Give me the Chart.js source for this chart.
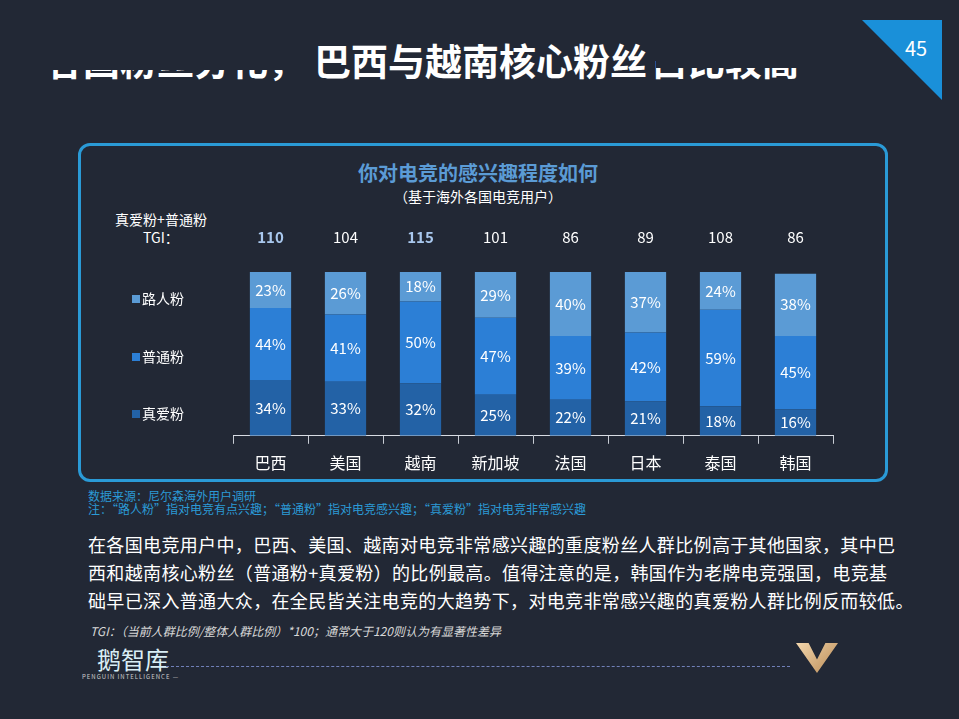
<!DOCTYPE html>
<html>
<head>
<meta charset="utf-8">
<script src="https://cdn.jsdelivr.net/npm/chart.js@4/dist/chart.umd.min.js"></script>
<style>
  html, body { margin: 0; padding: 0; }
  body {
    width: 959px; height: 719px; position: relative; overflow: hidden;
    background: #222835;
    font-family: "Noto Sans CJK SC", "Noto Sans", sans-serif;
    color: #fff;
  }
  .abs { position: absolute; white-space: nowrap; }
  .title { top: 34px; font-size: 37px; font-weight: bold; line-height: 52px; }
  .mask { position: absolute; background: #222835; }
  .page-tri {
    position: absolute; left: 862px; top: 20px; width: 80px; height: 80px;
    background: #1a90d9; clip-path: polygon(0 0, 100% 0, 100% 100%);
  }
  .box {
    position: absolute; left: 78px; top: 143px; width: 804px; height: 333px;
    border: 3px solid #2a9ad6; border-radius: 12px; background: #222835;
  }
  #chart { position: absolute; left: 0; top: 0; }
  .body-text { left: 88px; top: 530px; font-size: 18px; line-height: 28px; letter-spacing: 0.35px; }
  .v-logo {
    position: absolute; left: 796px; top: 643px; width: 42px; height: 30px;
    background: linear-gradient(135deg, #f3d7ad, #b98a55);
    clip-path: polygon(0 0, 30% 0, 50% 55%, 70% 0, 100% 0, 50% 100%);
  }
</style>
</head>
<body>
  <div class="abs title" style="right:654px;">各国粉丝分化，</div>
  <div class="abs title" style="left:314px;">巴西与越南核心粉丝</div>
  <div class="abs title" style="left:651px;">占比较高</div>
  <div class="mask" style="left:30px; top:30px; width:280px; height:40px;"></div>
  <div class="mask" style="left:656px; top:30px; width:180px; height:38px;"></div>

  <div class="page-tri"></div>
  <div class="abs" style="left:905px; top:33px; font-size:20px;">45</div>

  <div class="box"></div>
  <div class="abs" style="left:0; width:956px; text-align:center; top:158px; font-size:20px; font-weight:bold; color:#5b9bd5;">你对电竞的感兴趣程度如何</div>
  <div class="abs" style="left:0; width:956px; text-align:center; top:186px; font-size:14px;">（基于海外各国电竞用户）</div>
  <div class="abs" style="left:100px; width:122px; text-align:center; top:210px; font-size:14px; line-height:18px;">真爱粉+普通粉<br>TGI：</div>

  <div class="abs" style="left:88px; top:489px; font-size:12px; line-height:13px; color:#2b9ad6;">数据来源：尼尔森海外用户调研<br>注：“路人粉”指对电竞有点兴趣；“普通粉”指对电竞感兴趣；“真爱粉”指对电竞非常感兴趣</div>

  <div class="abs body-text">在各国电竞用户中，巴西、美国、越南对电竞非常感兴趣的重度粉丝人群比例高于其他国家，其中巴<br>西和越南核心粉丝（普通粉+真爱粉）的比例最高。值得注意的是，韩国作为老牌电竞强国，电竞基<br>础早已深入普通大众，在全民皆关注电竞的大趋势下，对电竞非常感兴趣的真爱粉人群比例反而较低。</div>
  <div class="abs" style="left:90px; top:622px; font-size:12px; font-style:italic; color:#d8d8d8;">TGI：（当前人群比例/整体人群比例）*100；通常大于120则认为有显著性差异</div>

  <div class="abs" style="left:97px; top:641px; font-size:24px; color:#d9eef5;">鹅智库</div>
  <div class="abs" style="left:82px; top:672px; font-size:6px; color:#ccc; letter-spacing:1px;">PENGUIN INTELLIGENCE —</div>
  <div class="abs" style="left:166px; top:666px; width:624px; border-top:1px dashed #7080b8;"></div>
  <div class="v-logo"></div>

  <canvas id="chart" width="959" height="719"></canvas>

<script>
const categories = ["巴西", "美国", "越南", "新加坡", "法国", "日本", "泰国", "韩国"];
const trueFans = [34, 33, 32, 25, 22, 21, 18, 16];     // 真爱粉
const regularFans = [44, 41, 50, 47, 39, 42, 59, 45];  // 普通粉
const casualFans = [23, 26, 18, 29, 40, 37, 24, 38];   // 路人粉
const tgiValues = [110, 104, 115, 101, 86, 89, 108, 86];
const seriesNames = ["真爱粉", "普通粉", "路人粉"];

const FONT = '"Noto Sans CJK SC", "Noto Sans", sans-serif';
const colors = ["#2362a6", "#2c7fd6", "#5b9bd5"];

// white % labels inside each segment
const segmentLabels = {
  id: "segmentLabels",
  afterDatasetsDraw(chart) {
    const ctx = chart.ctx;
    ctx.save();
    ctx.fillStyle = "#ffffff";
    ctx.font = "15px " + FONT;
    ctx.textAlign = "center";
    ctx.textBaseline = "middle";
    chart.data.datasets.forEach((ds, i) => {
      chart.getDatasetMeta(i).data.forEach((bar, j) => {
        const top = Math.max(bar.y, chart.chartArea.top);
        ctx.fillText(ds.data[j] + "%", bar.x, (top + bar.base) / 2);
      });
    });
    ctx.restore();
  },
};

// TGI row above the bars, plus the vertical legend on the left
const extras = {
  id: "extras",
  afterDraw(chart) {
    const ctx = chart.ctx;
    const xs = chart.scales.x;
    ctx.save();
    ctx.textAlign = "center";
    ctx.textBaseline = "middle";
    tgiValues.forEach((v, i) => {
      const hi = v >= 110;
      ctx.font = (hi ? "bold " : "") + "15px " + FONT;
      ctx.fillStyle = hi ? "#a9c8ee" : "#ffffff";
      ctx.fillText(String(v), xs.getPixelForValue(i), 237);
    });

    const legendY = [414, 357, 299];
    ctx.textAlign = "left";
    ctx.font = "14px " + FONT;
    chart.data.datasets.forEach((ds, i) => {
      ctx.fillStyle = ds.backgroundColor;
      ctx.fillRect(132, legendY[i] - 4, 8, 8);
      ctx.fillStyle = "#ffffff";
      ctx.fillText(ds.label, 142, legendY[i]);
    });
    ctx.restore();
  },
};

new Chart(document.getElementById("chart"), {
  type: "bar",
  data: {
    labels: categories,
    datasets: [
      { label: seriesNames[0], data: trueFans, backgroundColor: colors[0] },
      { label: seriesNames[1], data: regularFans, backgroundColor: colors[1] },
      { label: seriesNames[2], data: casualFans, backgroundColor: colors[2] },
    ],
  },
  options: {
    responsive: false,
    animation: false,
    layout: { padding: { left: 233, right: 126, top: 272, bottom: 236 } },
    datasets: { bar: { categoryPercentage: 1, barPercentage: 0.55 } },
    plugins: { legend: { display: false }, tooltip: { enabled: false } },
    scales: {
      x: {
        stacked: true,
        grid: {
          display: true,
          offset: true,
          drawOnChartArea: false,
          drawTicks: true,
          tickLength: 8,
          tickColor: (c) => (c.index === categories.length ? "rgba(0,0,0,0)" : "#c8ccd4"),
        },
        border: { display: true, color: "#d8dce4", width: 1 },
        ticks: { color: "#ffffff", font: { size: 16, family: FONT }, padding: 10 },
      },
      y: { stacked: true, display: false, min: 0, max: 100 },
    },
  },
  plugins: [segmentLabels, extras],
});
</script>
</body>
</html>
